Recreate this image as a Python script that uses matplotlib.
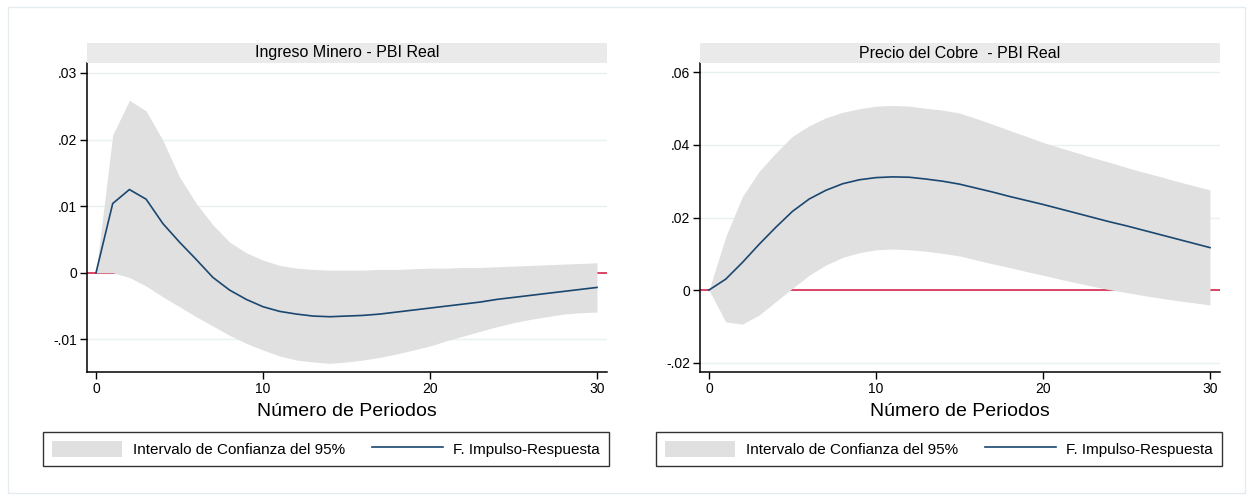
import matplotlib
matplotlib.use("Agg")
import matplotlib.pyplot as plt
from matplotlib.patches import Rectangle, Patch
from matplotlib.lines import Line2D
from matplotlib.ticker import FuncFormatter
import numpy as np

plt.rcParams['font.family'] = ['Liberation Sans', 'DejaVu Sans']

# periodos 0..30
periodos = list(range(31))

# Ingreso Minero - PBI Real
irf_minero = [0.0, 0.0104, 0.0125, 0.01105, 0.0074, 0.0046, 0.0020, -0.0007, -0.0026, -0.0040,
              -0.0051, -0.0058, -0.0062, -0.0065, -0.0066, -0.0065, -0.0064, -0.0062, -0.0059, -0.0056,
              -0.0053, -0.0050, -0.0047, -0.0044, -0.0040, -0.0037, -0.0034, -0.0031, -0.0028, -0.0025,
              -0.0022]
sup_minero = [0.0, 0.0207, 0.0259, 0.0243, 0.0199, 0.0144, 0.0104, 0.0072, 0.0046, 0.0030,
              0.0019, 0.0011, 0.0007, 0.0005, 0.0004, 0.0004, 0.0004, 0.0005, 0.0005, 0.0006,
              0.0007, 0.0007, 0.0008, 0.0008, 0.0009, 0.0010, 0.0011, 0.0012, 0.0013, 0.0014,
              0.0015]
inf_minero = [0.0, 0.0, -0.0007, -0.0020, -0.0036, -0.0051, -0.0066, -0.0080, -0.0094, -0.0106,
              -0.0116, -0.0125, -0.0131, -0.0134, -0.0136, -0.0134, -0.0131, -0.0127, -0.0122, -0.0116,
              -0.0110, -0.0102, -0.0095, -0.0088, -0.0081, -0.0075, -0.0070, -0.0066, -0.0062, -0.0060,
              -0.0059]

# Precio del Cobre - PBI Real
irf_cobre = [0.0, 0.0030, 0.0076, 0.0126, 0.0173, 0.0217, 0.0251, 0.0275, 0.0293, 0.0304,
             0.0310, 0.0312, 0.0311, 0.0306, 0.0300, 0.0292, 0.0281, 0.0270, 0.0258, 0.0247,
             0.0236, 0.0224, 0.0212, 0.0200, 0.0188, 0.0177, 0.0165, 0.0153, 0.0141, 0.0129,
             0.0117]
sup_cobre = [0.0, 0.0147, 0.0258, 0.0327, 0.0378, 0.0424, 0.0453, 0.0475, 0.0490, 0.0500,
             0.0507, 0.0509, 0.0507, 0.0501, 0.0496, 0.0488, 0.0473, 0.0457, 0.0440, 0.0424,
             0.0407, 0.0393, 0.0379, 0.0365, 0.0352, 0.0338, 0.0325, 0.0313, 0.0300, 0.0288,
             0.0276]
inf_cobre = [0.0, -0.0088, -0.0094, -0.0069, -0.0032, 0.0005, 0.0041, 0.0069, 0.0090, 0.0103,
             0.0111, 0.0113, 0.0111, 0.0107, 0.0101, 0.0094, 0.0083, 0.0072, 0.0062, 0.0051,
             0.0041, 0.0030, 0.0020, 0.0010, 0.0001, -0.0007, -0.0015, -0.0022, -0.0029, -0.0035,
             -0.0041]

titulos = ['Ingreso Minero - PBI Real', 'Precio del Cobre  - PBI Real']
yticks_list = [[-0.01, 0, 0.01, 0.02, 0.03], [-0.02, 0, 0.02, 0.04, 0.06]]
ylims = [(-0.0149, 0.0315), (-0.0226, 0.0626)]
xticks = [0, 10, 20, 30]

BAND = '#e0e0e0'
LINE = '#1a476f'
RED = '#d7264f'
GRID = '#e8f0f2'


def fmt(v, pos):
    if abs(v) < 1e-12:
        return '0'
    s = '%g' % v
    return s.replace('0.', '.')


W, H = 1252, 500
fig = plt.figure(figsize=(W / 100, H / 100), dpi=100)
fig.patches.append(Rectangle((8 / W, 7 / H), 1237 / W, 486 / H, transform=fig.transFigure,
                             fill=False, edgecolor='#e4ecf0', lw=1))

lefts = [87, 700]
series = [(irf_minero, sup_minero, inf_minero), (irf_cobre, sup_cobre, inf_cobre)]

for i in range(2):
    x0 = lefts[i]
    ax = fig.add_axes([x0 / W, 1 - 372 / H, 520 / W, 309 / H])
    irf, sup, inf = series[i]
    ax.axhline(0, color=RED, lw=1.2, zorder=1)
    ax.fill_between(periodos, inf, sup, color=BAND, lw=0, zorder=2)
    ax.plot(periodos, irf, color=LINE, lw=1.2, zorder=3)
    ax.set_xlim(-0.54, 30.6)
    ax.set_ylim(*ylims[i])
    ax.set_yticks(yticks_list[i])
    ax.set_xticks(xticks)
    ax.yaxis.set_major_formatter(FuncFormatter(fmt))
    ax.grid(axis='y', color=GRID, lw=1, zorder=0)
    ax.set_axisbelow(True)
    for s in ['top', 'right']:
        ax.spines[s].set_visible(False)
    for s in ['left', 'bottom']:
        ax.spines[s].set_linewidth(1.1)
    ax.tick_params(direction='out', length=5, width=1, labelsize=10, pad=2)
    ax.set_xlabel('Número de Periodos', fontsize=14, labelpad=5)

    # franja del titulo
    tax = fig.add_axes([x0 / W, 1 - 63 / H, 520 / W, 20 / H])
    tax.set_facecolor('#eaeaea')
    tax.set_xticks([])
    tax.set_yticks([])
    for s in tax.spines.values():
        s.set_visible(False)
    tax.text(0.5, 0.5, titulos[i], ha='center', va='center', fontsize=11.5, transform=tax.transAxes)

    # leyenda
    handles = [Patch(facecolor=BAND, edgecolor='none'), Line2D([], [], color=LINE, lw=1.2)]
    labels = ['Intervalo de Confianza del 95%', 'F. Impulso-Respuesta']
    lx0 = 45 if i == 0 else 658
    leg = fig.legend(handles, labels, ncol=2, loc='center',
                     bbox_to_anchor=((lx0 + 281) / W, 1 - 449 / H),
                     fontsize=11, frameon=True, fancybox=False, edgecolor='black',
                     handlelength=4.6, handleheight=1.3, handletextpad=0.7, columnspacing=1.8,
                     borderpad=0.6)
    leg.get_frame().set_linewidth(1.0)

fig.savefig('out.png', dpi=100, facecolor='white')
